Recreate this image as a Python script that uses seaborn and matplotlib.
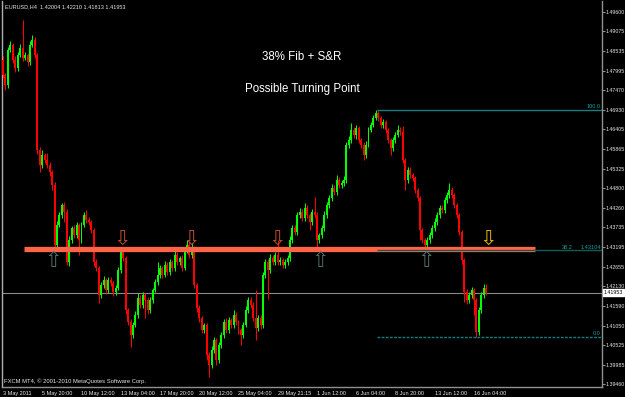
import numpy as np
import pandas as pd
import matplotlib
matplotlib.use("Agg")
import matplotlib.pyplot as plt
import seaborn as sns

# ---------------- data ----------------
first_open = 1.4829
closes = [
    1.4788, 1.4761, 1.4856, 1.4870, 1.4829, 1.4807, 1.4843, 1.4862, 1.4835, 1.4843, 1.4824, 1.4870, 1.4884, 1.4843, 1.4584,
    1.4543, 1.4570, 1.4557, 1.4543, 1.4524, 1.4488, 1.4325, 1.4379, 1.4407, 1.4434, 1.4415, 1.4278, 1.4338, 1.4371, 1.4352,
    1.4379, 1.4338, 1.4379, 1.4407, 1.4393, 1.4388, 1.4366, 1.4278, 1.4262, 1.4189, 1.4216, 1.4229, 1.4202, 1.4229, 1.4221,
    1.4197, 1.4208, 1.4257, 1.4306, 1.4289, 1.4148, 1.4115, 1.4079, 1.4107, 1.4134, 1.4180, 1.4161, 1.4189, 1.4175, 1.4148,
    1.4175, 1.4202, 1.4224, 1.4243, 1.4262, 1.4243, 1.4270, 1.4251, 1.4278, 1.4262, 1.4298, 1.4278, 1.4289, 1.4262, 1.4311,
    1.4325, 1.4298, 1.4317, 1.4216, 1.4153, 1.4126, 1.4093, 1.4107, 1.4025, 1.3998, 1.4039, 1.4066, 1.4011, 1.4052, 1.4079,
    1.4115, 1.4093, 1.4120, 1.4107, 1.4134, 1.4115, 1.4093, 1.4079, 1.4107, 1.4148, 1.4175, 1.4161, 1.4126, 1.4099, 1.4126,
    1.4107, 1.4243, 1.4278, 1.4257, 1.4289, 1.4278, 1.4298, 1.4278, 1.4284, 1.4270, 1.4278, 1.4289, 1.4338, 1.4371, 1.4360,
    1.4407, 1.4415, 1.4398, 1.4426, 1.4407, 1.4388, 1.4415, 1.4407, 1.4338, 1.4352, 1.4371, 1.4407, 1.4434, 1.4453, 1.4480,
    1.4469, 1.4502, 1.4488, 1.4494, 1.4502, 1.4597, 1.4611, 1.4638, 1.4625, 1.4644, 1.4611, 1.4597, 1.4570, 1.4597, 1.4638,
    1.4652, 1.4671, 1.4685, 1.4671, 1.4652, 1.4660, 1.4638, 1.4611, 1.4589, 1.4611, 1.4625, 1.4638, 1.4633, 1.4557, 1.4502,
    1.4529, 1.4516, 1.4508, 1.4475, 1.4453, 1.4366, 1.4338, 1.4325, 1.4338, 1.4352, 1.4371, 1.4388, 1.4407, 1.4426, 1.4420,
    1.4448, 1.4461, 1.4475, 1.4461, 1.4434, 1.4407, 1.4360, 1.4284, 1.4197, 1.4175, 1.4189, 1.4202, 1.4175, 1.4088, 1.4148,
    1.4189, 1.4208, 1.41953,
]
# upper / lower shadow lengths in pips
upper_wick = [
    10, 6, 8, 12, 6, 10, 8, 10, 76, 8, 6, 10, 14, 8, 6,
    8, 14, 6, 19, 8, 6, 8, 10, 8, 6, 8, 8, 10, 6, 8,
    8, 6, 8, 8, 14, 8, 6, 6, 8, 6, 8, 10, 6, 8, 8,
    6, 8, 8, 14, 8, 6, 6, 8, 8, 10, 14, 8, 8, 6, 8,
    8, 6, 8, 35, 8, 6, 10, 8, 8, 6, 14, 8, 6, 8, 8,
    14, 8, 14, 6, 6, 8, 6, 6, 6, 8, 10, 8, 6, 8, 8,
    8, 10, 8, 6, 14, 8, 6, 6, 8, 10, 8, 8, 8, 76, 8,
    8, 8, 10, 8, 10, 8, 8, 41, 8, 6, 8, 8, 10, 8, 8,
    8, 10, 8, 14, 8, 6, 8, 41, 8, 6, 8, 10, 8, 8, 10,
    8, 14, 8, 8, 10, 8, 10, 19, 8, 8, 6, 6, 8, 10, 8,
    8, 8, 8, 8, 6, 8, 6, 6, 6, 8, 8, 14, 8, 16, 6,
    8, 8, 6, 6, 6, 6, 6, 6, 8, 8, 8, 10, 8, 8, 8,
    8, 8, 19, 8, 6, 6, 6, 6, 6, 8, 8, 8, 6, 6, 8, 8, 11, 10,
]
lower_wick = [
    8, 14, 8, 6, 8, 10, 8, 6, 8, 6, 10, 8, 6, 8, 10,
    19, 8, 8, 8, 10, 14, 14, 8, 6, 8, 27, 8, 10, 8, 8,
    8, 41, 8, 6, 8, 8, 8, 10, 8, 22, 8, 8, 10, 8, 8,
    10, 8, 6, 8, 8, 10, 8, 33, 8, 6, 8, 8, 8, 49, 10,
    8, 8, 6, 8, 8, 8, 6, 8, 8, 8, 8, 8, 8, 8, 6,
    8, 8, 8, 8, 10, 10, 8, 8, 14, 33, 8, 8, 14, 8, 8,
    8, 8, 8, 8, 8, 8, 10, 27, 8, 6, 8, 8, 8, 33, 8,
    10, 8, 8, 80, 8, 8, 8, 8, 8, 8, 8, 8, 8, 8, 8,
    8, 8, 8, 8, 8, 22, 8, 8, 27, 8, 8, 8, 8, 8, 8,
    8, 8, 8, 8, 8, 8, 8, 8, 8, 10, 8, 8, 14, 8, 6,
    6, 6, 6, 8, 8, 8, 8, 8, 19, 8, 8, 6, 8, 8, 27,
    8, 8, 8, 8, 8, 27, 8, 11, 8, 8, 8, 8, 8, 8, 8,
    8, 8, 8, 8, 8, 8, 8, 10, 27, 10, 8, 8, 41, 15, 8, 8, 8, 6,
]

time_tick_bars = [0, 16, 32, 48, 64, 80, 96, 112, 128, 144, 160, 176, 192]
time_tick_labels = ["3 May 2011", "5 May 20:00", "10 May 12:00", "13 May 04:00", "17 May 20:00",
                    "20 May 12:00", "25 May 04:00", "29 May 21:15", "1 Jun 12:00", "6 Jun 04:00",
                    "8 Jun 20:00", "13 Jun 12:00", "16 Jun 04:00"]
price_ticks = [1.49600, 1.49075, 1.48535, 1.47995, 1.47470, 1.46930, 1.46405, 1.45865, 1.45325,
               1.44800, 1.44260, 1.43735, 1.43195, 1.42655, 1.42130, 1.41590, 1.41050, 1.40525,
               1.39985, 1.39460]

header = "EURUSD,H4  1.42004 1.42210 1.41813 1.41953"
last_price = 1.41953
sr_level = 1.4314
sr_bars = (8.6, 217.0)
fib_levels = ["0.0", "38.2", "100.0"]
fib_prices = [1.40739, 1.43104, 1.46930]
fib_start_bar = 152.5
up_arrow_bars = [20.4, 129.3, 172.5]
down_arrow_bars = [48.5, 76.6, 111.7]
yellow_arrow_bar = 197.7

# ---------------- build table ----------------
n = len(closes)
opens = [first_open] + closes[:-1]
df = pd.DataFrame({"bar": np.arange(n), "open": opens, "close": closes})
df["high"] = df[["open", "close"]].max(axis=1) + np.array(upper_wick) * 1e-4
df["low"] = df[["open", "close"]].min(axis=1) - np.array(lower_wick) * 1e-4
df["bull"] = df["close"] >= df["open"]

# ---------------- figure ----------------
sns.set_style("dark")
plt.rcParams["font.family"] = ["Liberation Sans", "DejaVu Sans"]

W, H = 625, 397
small = 4.0
fig = plt.figure(figsize=(W / 100, H / 100), dpi=100, facecolor="black")
ax = fig.add_axes([2 / W, 10 / H, 600 / W, 386 / H])
ax.set_facecolor("black")

y_top, y_bot = 1.49900, 1.39377
ax.set_ylim(y_bot, y_top)
ax.set_xlim(-0.41, 244.2)

bull_col, bear_col = "#00FF00", "#FF0000"
cols = np.where(df["bull"], bull_col, bear_col)
ax.vlines(df["bar"], df["low"], df["high"], colors=cols, linewidth=0.75, zorder=3)
body_h = np.maximum((df["close"] - df["open"]).abs(), 0.00012)
body_b = df[["open", "close"]].min(axis=1)
ax.bar(df["bar"], body_h, bottom=body_b, width=0.8, color=cols, linewidth=0, zorder=4)

# current price line
ax.axhline(last_price, color="#8a8a8a", linewidth=0.8, zorder=2)

# S&R line
ax.hlines(sr_level, sr_bars[0], sr_bars[1], colors="#FF6449", linewidth=3.8, zorder=5)

# fibonacci lines
fib_styles = {"0.0": dict(color="#138080", linestyle=(0, (2, 1)), linewidth=1.0),
              "38.2": dict(color="#0c5f55", linestyle="-", linewidth=1.0),
              "100.0": dict(color="#138080", linestyle="-", linewidth=1.0)}
x_right = ax.get_xlim()[1]
for lvl, pr in zip(fib_levels, fib_prices):
    ax.hlines(pr, fib_start_bar, x_right, zorder=6, **fib_styles[lvl])
    if lvl == "38.2":
        ax.text(x_right - 12.0, pr + 0.0002, lvl, color="#1aa0a0", fontsize=small, ha="right", va="bottom", zorder=7)
        ax.text(x_right - 0.5, pr + 0.0002, f"{pr:.5f}", color="#1aa0a0", fontsize=small, ha="right", va="bottom", zorder=7)
    else:
        ax.text(x_right - 0.5, pr + 0.0002, lvl, color="#1aa0a0", fontsize=small, ha="right", va="bottom", zorder=7)

# arrows
for b in up_arrow_bars:
    ax.text(b, 1.4282, "\u21e7", color="#4f6b66", fontsize=15, ha="center", va="center",
            family="DejaVu Sans", zorder=8)
for b in down_arrow_bars:
    ax.text(b, 1.4343, "\u21e9", color="#b84a30", fontsize=15, ha="center", va="center",
            family="DejaVu Sans", zorder=8)
ax.text(yellow_arrow_bar, 1.4343, "\u21e9", color="#e0b000", fontsize=15, ha="center", va="center",
        family="DejaVu Sans", zorder=8)

# axes styling
ax.spines["top"].set_visible(False)
ax.spines["left"].set_color("#b0b0b0")
ax.spines["right"].set_color("#909090")
ax.spines["bottom"].set_color("#909090")
for s in ["left", "right", "bottom"]:
    ax.spines[s].set_linewidth(1.0)
ax.grid(False)

ax.yaxis.tick_right()
ax.set_yticks(price_ticks)
ax.set_yticklabels([f"{p:.5f}" for p in price_ticks])
ax.tick_params(axis="y", colors="#909090", labelcolor="#e6e6e6", labelsize=3.8, length=2, width=0.8, pad=0.7)

ax.set_xticks(time_tick_bars)
ax.set_xticklabels(time_tick_labels, ha="left")
ax.tick_params(axis="x", colors="#909090", labelcolor="#e6e6e6", labelsize=small, length=2, width=0.8, pad=1.0)
for lab in ax.get_xticklabels():
    lab.set_horizontalalignment("left")

# last price box on the price scale
ax.annotate(f"{last_price:.5f}", xy=(1.0, last_price), xycoords=("axes fraction", "data"),
            xytext=(1.4, 0), textcoords="offset points", fontsize=3.8, color="black", va="center", ha="left",
            bbox=dict(boxstyle="square,pad=0.15", fc="white", ec="white"), zorder=10, annotation_clip=False)

# texts
fig.text(5 / W, 1 - 7 / H, header, color="#e6e6e6", fontsize=small, ha="left", va="center")
fig.text(4 / W, 1 - 381 / H, "FXCM MT4, \u00a9 2001-2010 MetaQuotes Software Corp.", color="#e6e6e6",
         fontsize=4.2, ha="left", va="center")
fig.text(302 / W, 1 - 57 / H, "38% Fib + S&R", color="white", fontsize=8.3, ha="center", va="center")
fig.text(302 / W, 1 - 89 / H, "Possible Turning Point", color="white", fontsize=8.3, ha="center", va="center")

fig.savefig("out.png", dpi=100, facecolor="black")
